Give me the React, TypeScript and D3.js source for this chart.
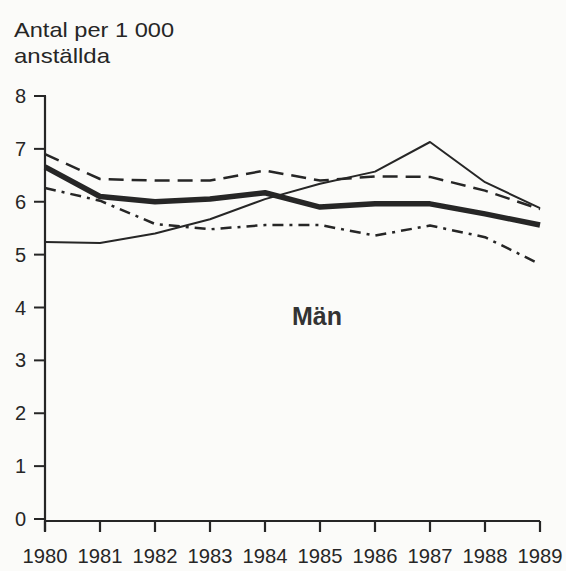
import { useEffect, useRef } from 'react'
import * as d3 from 'd3'

const W = 566
const H = 571

const years = [1980, 1981, 1982, 1983, 1984, 1985, 1986, 1987, 1988, 1989]
const yTicks = [0, 1, 2, 3, 4, 5, 6, 7, 8]

// four series
const thick = [6.66, 6.1, 6.0, 6.05, 6.17, 5.9, 5.96, 5.96, 5.77, 5.56]
const dashed = [6.9, 6.43, 6.4, 6.4, 6.59, 6.4, 6.48, 6.47, 6.21, 5.86]
const thin = [5.24, 5.22, 5.4, 5.67, 6.05, 6.34, 6.57, 7.13, 6.37, 5.88]
const dashDot = [6.26, 6.02, 5.58, 5.48, 5.56, 5.56, 5.36, 5.55, 5.33, 4.82]

const INK = '#262626'
const FONT = 'Liberation Sans, Arial, sans-serif'

export default function App() {
  const ref = useRef<SVGSVGElement>(null)

  useEffect(() => {
    if (!ref.current) return
    const svg = d3.select(ref.current)
    svg.selectAll('*').remove()

    const x = d3.scaleLinear().domain([1980, 1989]).range([45, 540])
    const y = d3.scaleLinear().domain([0, 8]).range([519, 96])

    svg.append('rect').attr('width', W).attr('height', H).attr('fill', '#fbfbf9')

    // title
    const title = svg.append('text')
      .attr('font-family', FONT).attr('font-size', 21).attr('fill', INK)
    title.append('tspan').attr('x', 14).attr('y', 37)
      .attr('textLength', 160).attr('lengthAdjust', 'spacingAndGlyphs')
      .text('Antal per 1 000')
    title.append('tspan').attr('x', 14).attr('y', 63)
      .attr('textLength', 96).attr('lengthAdjust', 'spacingAndGlyphs')
      .text('anställda')

    // y axis
    svg.append('line')
      .attr('x1', x(1980)).attr('x2', x(1980))
      .attr('y1', y(8)).attr('y2', y(0) + 12)
      .attr('stroke', INK).attr('stroke-width', 2.2)
    yTicks.forEach((t) => {
      svg.append('line')
        .attr('x1', 34).attr('x2', x(1980) + 1)
        .attr('y1', y(t)).attr('y2', y(t))
        .attr('stroke', INK).attr('stroke-width', 2)
      svg.append('text')
        .attr('x', 26).attr('y', y(t))
        .attr('text-anchor', 'end').attr('dominant-baseline', 'central')
        .attr('font-family', FONT).attr('font-size', 20).attr('fill', INK)
        .text(t)
    })

    // x axis
    svg.append('line')
      .attr('x1', x(1980)).attr('x2', x(1989))
      .attr('y1', y(0) + 2).attr('y2', y(0) + 2)
      .attr('stroke', INK).attr('stroke-width', 2.2)
    years.forEach((yr) => {
      svg.append('line')
        .attr('x1', x(yr)).attr('x2', x(yr))
        .attr('y1', y(0) + 2).attr('y2', y(0) + 13)
        .attr('stroke', INK).attr('stroke-width', 2.2)
      svg.append('text')
        .attr('x', x(yr)).attr('y', 563)
        .attr('text-anchor', 'middle')
        .attr('font-family', FONT).attr('font-size', 21).attr('fill', INK)
        .attr('textLength', 45).attr('lengthAdjust', 'spacingAndGlyphs')
        .text(yr)
    })

    const line = d3.line<number>()
      .x((_, i) => x(years[i]))
      .y((d) => y(d))

    const series = [
      { data: dashed, width: 2.5, dash: '15,8' },
      { data: dashDot, width: 2.5, dash: '11,6,3,6' },
      { data: thin, width: 2, dash: null },
      { data: thick, width: 5.5, dash: null },
    ]
    series.forEach((s) => {
      svg.append('path')
        .datum(s.data)
        .attr('d', line)
        .attr('fill', 'none')
        .attr('stroke', INK)
        .attr('stroke-width', s.width)
        .attr('stroke-linejoin', 'round')
        .attr('stroke-dasharray', s.dash)
    })

    svg.append('text')
      .attr('x', 317).attr('y', 325)
      .attr('text-anchor', 'middle')
      .attr('font-family', FONT).attr('font-size', 25).attr('font-weight', 'bold')
      .attr('fill', '#333')
      .attr('textLength', 50).attr('lengthAdjust', 'spacingAndGlyphs')
      .text('Män')
  }, [])

  return (
    <svg ref={ref} width={W} height={H}
      style={{ position: 'absolute', left: 0, top: 0, display: 'block' }} />
  )
}
